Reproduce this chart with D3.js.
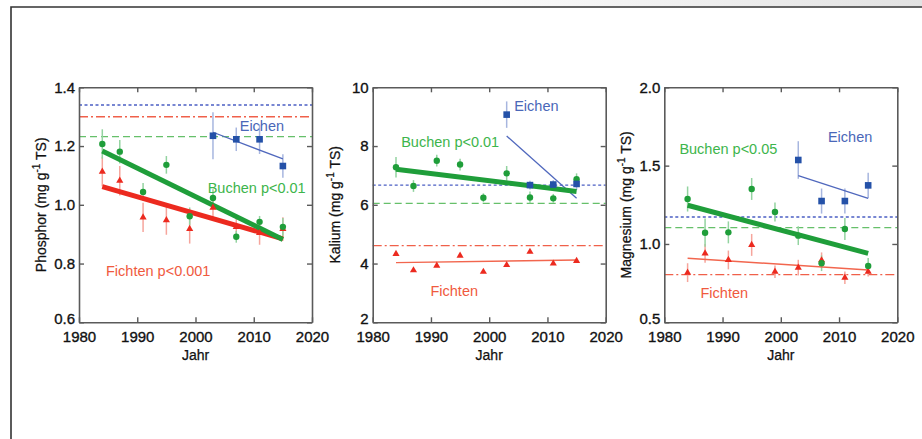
<!DOCTYPE html>
<html>
<head>
<meta charset="utf-8">
<script src="https://cdn.jsdelivr.net/npm/d3@7"></script>
<style>
  body { margin: 0; background: #fff; }
  svg { display: block; font-family: 'Liberation Sans', Arial, sans-serif; }
</style>
</head>
<body>
<svg id="chart" width="922" height="439"></svg>
<script>
// Sampling years
const years = [1984, 1987, 1991, 1995, 1999, 2003, 2007, 2011, 2015];
const eichenYears = [2003, 2007, 2011, 2015];
const trendYears = [1984, 2015];
const eichenTrendYears = [2003, 2015];
const xTicks = [1980, 1990, 2000, 2010, 2020];

// Phosphor
const phosphorTicks = [0.6, 0.8, 1.0, 1.2, 1.4];
const phosphorBuchen = [1.207, 1.181, 1.044, 1.136, 0.961, 1.023, 0.891, 0.942, 0.925];
const phosphorBuchenErr = [0.05, 0.04, 0.03, 0.03, 0.03, 0.03, 0.02, 0.02, 0.03];
const phosphorFichten = [1.113, 1.082, 0.957, 0.948, 0.918, 0.990, 0.925, 0.904, 0.918];
const phosphorFichtenErr = [0.05, 0.05, 0.05, 0.05, 0.05, 0.04, 0.04, 0.04, 0.04];
const phosphorEichen = [1.235, 1.223, 1.223, 1.132];
const phosphorEichenErr = [0.08, 0.04, 0.05, 0.04];
const phosphorBuchenTrend = [1.183, 0.882];
const phosphorFichtenTrend = [1.062, 0.884];
const phosphorEichenTrend = [1.247, 1.156];
const phosphorRefs = [1.34, 1.30, 1.232]; // Eichen, Fichten, Buchen

// Kalium
const kaliumTicks = [2, 4, 6, 8, 10];
const kaliumBuchen = [7.28, 6.64, 7.50, 7.37, 6.24, 7.07, 6.25, 6.22, 6.87];
const kaliumBuchenErr = [0.35, 0.2, 0.2, 0.2, 0.15, 0.25, 0.2, 0.15, 0.2];
const kaliumFichten = [4.33, 3.77, 3.93, 4.27, 3.72, 3.95, 4.40, 4.00, 4.09];
const kaliumFichtenErr = [0.05, 0.05, 0.05, 0.05, 0.05, 0.05, 0.05, 0.05, 0.05];
const kaliumEichen = [9.07, 6.67, 6.69, 6.71];
const kaliumEichenErr = [0.45, 0.15, 0.15, 0.2];
const kaliumBuchenTrend = [7.21, 6.45];
const kaliumFichtenTrend = [4.03, 4.12];
const kaliumEichenTrend = [8.34, 6.22];
const kaliumRefs = [6.67, 4.61, 6.05];

// Magnesium
const magnesiumTicks = [0.5, 1.0, 1.5, 2.0];
const magnesiumBuchen = [1.287, 1.072, 1.074, 1.351, 1.204, 1.053, 0.877, 1.096, 0.860];
const magnesiumBuchenErr = [0.08, 0.09, 0.07, 0.07, 0.06, 0.06, 0.05, 0.07, 0.05];
const magnesiumFichten = [0.817, 0.940, 0.898, 0.994, 0.823, 0.849, 0.896, 0.785, 0.823];
const magnesiumFichtenErr = [0.06, 0.06, 0.06, 0.07, 0.04, 0.05, 0.05, 0.04, 0.03];
const magnesiumEichen = [1.536, 1.274, 1.274, 1.374];
const magnesiumEichenErr = [0.12, 0.08, 0.08, 0.08];
const magnesiumBuchenTrend = [1.247, 0.940];
const magnesiumFichtenTrend = [0.909, 0.834];
const magnesiumEichenTrend = [1.436, 1.291];
const magnesiumRefs = [1.172, 0.804, 1.104];

const col = {
  buchen: '#1f9e3a', buchenLight: '#93d3a0', buchenText: '#3db54c',
  fichten: '#ec2a1f', fichtenLight: '#f6a59c', fichtenText: '#f05a3e',
  eichen: '#2451a8', eichenLight: '#a7b6df', eichenLine: '#5068bd', eichenText: '#4a67b8'
};

const panels = [
  {
    left: 79, title: 'Phosphor', domain: [0.6, 1.4], ticks: phosphorTicks, fmt: d3.format('.1f'),
    buchen: phosphorBuchen, buchenErr: phosphorBuchenErr,
    fichten: phosphorFichten, fichtenErr: phosphorFichtenErr,
    eichen: phosphorEichen, eichenErr: phosphorEichenErr,
    buchenTrend: phosphorBuchenTrend, fichtenTrend: phosphorFichtenTrend, eichenTrend: phosphorEichenTrend,
    refs: phosphorRefs, fichtenThick: true,
    labels: [
      { text: 'Eichen', x: 2011.4, y: 1.269, c: col.eichenText },
      { text: 'Buchen p<0.01', x: 2010.5, y: 1.056, c: col.buchenText },
      { text: 'Fichten p<0.001', x: 1993.6, y: 0.776, c: col.fichtenText }
    ]
  },
  {
    left: 372.7, title: 'Kalium', domain: [2, 10], ticks: kaliumTicks, fmt: d3.format('d'),
    buchen: kaliumBuchen, buchenErr: kaliumBuchenErr,
    fichten: kaliumFichten, fichtenErr: kaliumFichtenErr,
    eichen: kaliumEichen, eichenErr: kaliumEichenErr,
    buchenTrend: kaliumBuchenTrend, fichtenTrend: kaliumFichtenTrend, eichenTrend: kaliumEichenTrend,
    refs: kaliumRefs, fichtenThick: false,
    labels: [
      { text: 'Eichen', x: 2008.1, y: 9.37, c: col.eichenText },
      { text: 'Buchen p<0.01', x: 1993.3, y: 8.13, c: col.buchenText },
      { text: 'Fichten', x: 1994, y: 3.08, c: col.fichtenText }
    ]
  },
  {
    left: 664.3, title: 'Magnesium', domain: [0.5, 2.0], ticks: magnesiumTicks, fmt: d3.format('.1f'),
    buchen: magnesiumBuchen, buchenErr: magnesiumBuchenErr,
    fichten: magnesiumFichten, fichtenErr: magnesiumFichtenErr,
    eichen: magnesiumEichen, eichenErr: magnesiumEichenErr,
    buchenTrend: magnesiumBuchenTrend, fichtenTrend: magnesiumFichtenTrend, eichenTrend: magnesiumEichenTrend,
    refs: magnesiumRefs, fichtenThick: false,
    labels: [
      { text: 'Eichen', x: 2011.9, y: 1.685, c: col.eichenText },
      { text: 'Buchen p<0.05', x: 1991, y: 1.606, c: col.buchenText },
      { text: 'Fichten', x: 1990.3, y: 0.685, c: col.fichtenText }
    ]
  }
];

const svg = d3.select('#chart');
const plotTop = 87.3;
const plotW = 233;
const plotH = 235;

// page frame with a faint grey band above it
const grad = svg.append('defs').append('linearGradient').attr('id', 'band');
grad.append('stop').attr('offset', '0%').attr('stop-color', '#fff');
grad.append('stop').attr('offset', '45%').attr('stop-color', '#fff');
grad.append('stop').attr('offset', '100%').attr('stop-color', '#e2e2e2');
svg.append('rect').attr('x', 0).attr('y', 0).attr('width', 922).attr('height', 6.5).attr('fill', 'url(#band)');
svg.append('path')
  .attr('d', 'M11,439V7H922')
  .attr('fill', 'none')
  .attr('stroke', '#333')
  .attr('stroke-width', 1.6);

panels.forEach(p => {
  const g = svg.append('g').attr('transform', `translate(${p.left},${plotTop})`);

  const x = d3.scaleLinear().domain([1980, 2020]).range([0, plotW]);
  const y = d3.scaleLinear().domain(p.domain).range([plotH, 0]);

  // reference levels
  const refStyles = [
    { c: '#4b5fc4', dash: '3,2.5', w: 1.4 },
    { c: '#f0604a', dash: '9,3,2,3', w: 1.4 },
    { c: '#66c06a', dash: '7,4', w: 1.4 }
  ];
  p.refs.forEach((v, i) => {
    g.append('line')
      .attr('x1', 0).attr('x2', plotW)
      .attr('y1', y(v)).attr('y2', y(v))
      .attr('stroke', refStyles[i].c)
      .attr('stroke-width', refStyles[i].w)
      .attr('stroke-dasharray', refStyles[i].dash);
  });

  // error bars
  const errBars = (xs, vals, errs, c) => {
    g.append('g').selectAll('line')
      .data(vals)
      .join('line')
      .attr('x1', (d, i) => x(xs[i])).attr('x2', (d, i) => x(xs[i]))
      .attr('y1', (d, i) => y(d - errs[i])).attr('y2', (d, i) => y(d + errs[i]))
      .attr('stroke', c)
      .attr('stroke-width', 1.5);
  };
  errBars(years, p.fichten, p.fichtenErr, col.fichtenLight);
  errBars(years, p.buchen, p.buchenErr, col.buchenLight);
  errBars(eichenYears, p.eichen, p.eichenErr, col.eichenLight);

  // trend lines
  const line = d3.line().x(d => x(d[0])).y(d => y(d[1]));
  const trend = (xs, vals, c, w) => {
    g.append('path')
      .datum(xs.map((t, i) => [t, vals[i]]))
      .attr('d', line)
      .attr('fill', 'none')
      .attr('stroke', c)
      .attr('stroke-width', w);
  };
  trend(eichenTrendYears, p.eichenTrend, col.eichenLine, 1.3);
  trend(trendYears, p.fichtenTrend, p.fichtenThick ? col.fichten : '#f2664e', p.fichtenThick ? 5 : 1.4);
  trend(trendYears, p.buchenTrend, col.buchen, 5);

  // markers
  g.append('g').selectAll('path')
    .data(p.fichten)
    .join('path')
    .attr('d', d3.symbol(d3.symbolTriangle, 22))
    .attr('transform', (d, i) => `translate(${x(years[i])},${y(d)})`)
    .attr('fill', col.fichten);
  g.append('g').selectAll('circle')
    .data(p.buchen)
    .join('circle')
    .attr('cx', (d, i) => x(years[i]))
    .attr('cy', d => y(d))
    .attr('r', 3.2)
    .attr('fill', col.buchen);
  g.append('g').selectAll('rect')
    .data(p.eichen)
    .join('rect')
    .attr('x', (d, i) => x(eichenYears[i]) - 3.3)
    .attr('y', d => y(d) - 3.3)
    .attr('width', 6.6).attr('height', 6.6)
    .attr('fill', col.eichen);

  // annotations
  p.labels.forEach(l => {
    g.append('text')
      .attr('x', x(l.x)).attr('y', y(l.y))
      .attr('dy', '0.35em')
      .attr('text-anchor', 'middle')
      .attr('font-size', 14.5)
      .attr('fill', l.c)
      .text(l.text);
  });

  // axes (ticks point inward on all four sides)
  const styleAxis = a => {
    a.select('.domain').attr('stroke', '#5a5a5a').attr('stroke-width', 1.6);
    a.selectAll('.tick line').attr('stroke', '#5a5a5a').attr('stroke-width', 1.4);
    a.selectAll('text')
      .attr('font-size', 15)
      .attr('fill', '#111')
      .attr('stroke', '#111')
      .attr('stroke-width', 0.35)
      .attr('font-family', 'Liberation Sans, Arial, sans-serif');
  };
  g.append('g')
    .attr('transform', `translate(0,${plotH})`)
    .call(d3.axisBottom(x).tickValues(xTicks).tickFormat(d3.format('d')).tickSizeInner(-5).tickSizeOuter(0).tickPadding(9))
    .call(styleAxis);
  g.append('g')
    .call(d3.axisTop(x).tickValues(xTicks).tickFormat('').tickSizeInner(-5).tickSizeOuter(0))
    .call(styleAxis);
  const yAxisG = g.append('g')
    .call(d3.axisLeft(y).tickValues(p.ticks).tickFormat(p.fmt).tickSizeInner(-5).tickSizeOuter(0).tickPadding(4))
    .call(styleAxis);
  // lowest value label sits a little higher so it clears the year labels
  yAxisG.selectAll('.tick text').filter(d => d === p.domain[0]).attr('dy', '0.1em');
  g.append('g')
    .attr('transform', `translate(${plotW},0)`)
    .call(d3.axisRight(y).tickValues(p.ticks).tickFormat('').tickSizeInner(-5).tickSizeOuter(0))
    .call(styleAxis);

  // axis titles
  g.append('text')
    .attr('x', plotW / 2)
    .attr('y', plotH + 38)
    .attr('text-anchor', 'middle')
    .attr('font-size', 14)
    .attr('fill', '#111')
    .attr('stroke', '#111')
    .attr('stroke-width', 0.25)
    .text('Jahr');

  const yt = g.append('text')
    .attr('transform', `translate(-33,${plotH / 2}) rotate(-90)`)
    .attr('text-anchor', 'middle')
    .attr('font-size', 14)
    .attr('fill', '#111')
    .attr('stroke', '#111')
    .attr('stroke-width', 0.25);
  yt.append('tspan').text(`${p.title} (mg g`);
  yt.append('tspan').attr('font-size', 10).attr('dy', -6).text('-1');
  yt.append('tspan').attr('dy', 6).text(' TS)');
});
</script>
</body>
</html>
